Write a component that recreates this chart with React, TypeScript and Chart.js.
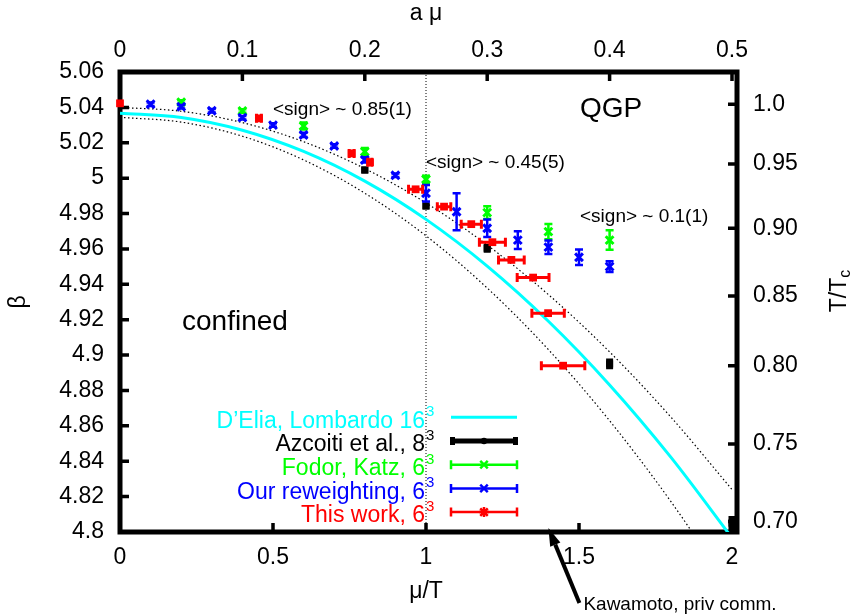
import React, { useEffect, useRef } from "react";
import { Chart, registerables } from "chart.js";

Chart.register(...registerables);

const FONT = "'Liberation Sans', Arial, Helvetica, sans-serif";
const TICK_SIZE = 23;

// ---- axes ----
const muRange = [0, 2];
const amuRange = [0, 0.5];
const betaRange = [4.8, 5.06];
const muTicks = [0, 0.5, 1, 1.5, 2];
const muTickLabels = ["0", "0.5", "1", "1.5", "2"];
const amuTicks = [0, 0.1, 0.2, 0.3, 0.4, 0.5];
const amuTickLabels = ["0", "0.1", "0.2", "0.3", "0.4", "0.5"];
const betaTicks = [4.8, 4.82, 4.84, 4.86, 4.88, 4.9, 4.92, 4.94, 4.96, 4.98, 5.0, 5.02, 5.04, 5.06];
const betaTickLabels = ["4.8", "4.82", "4.84", "4.86", "4.88", "4.9", "4.92", "4.94", "4.96", "4.98", "5", "5.02", "5.04", "5.06"];
const ttcTickBetas = [5.0418, 5.008, 4.9717, 4.9334, 4.8939, 4.8497, 4.8059];
const ttcTickLabels = ["1.0", "0.95", "0.90", "0.85", "0.80", "0.75", "0.70"];

// ---- D'Elia, Lombardo fit and its band ----
const curveMu = [0, 0.2, 0.4, 0.6, 0.8, 1.0, 1.2, 1.4, 1.6, 1.8, 2.0];
const deliaBeta = [5.0367, 5.0343, 5.0271, 5.0151, 4.9983, 4.9767, 4.9503, 4.9191, 4.8831, 4.8423, 4.7967];
const deliaUpper = [5.040, 5.0378, 5.0314, 5.0206, 5.0054, 4.986, 4.9622, 4.9342, 4.9018, 4.865, 4.824];
const deliaLower = [5.0344, 5.0317, 5.0237, 5.0103, 4.9915, 4.9674, 4.9379, 4.9031, 4.8629, 4.8173, 4.7664];
const signLineMu = 1;

// ---- Azcoiti et al. 8^3 ----
const azcoitiMu = [0.8, 1.0, 1.2, 1.6, 2.0];
const azcoitiBeta = [5.0046, 4.9843, 4.9604, 4.895, 4.805];
const azcoitiErr = [0.002, 0.002, 0.0025, 0.003, 0.004];

// ---- Fodor, Katz 6^3 ----
const fodorMu = [0.2, 0.4, 0.6, 0.8, 1.0, 1.2, 1.4, 1.6];
const fodorBeta = [5.043, 5.038, 5.0295, 5.015, 4.9994, 4.9805, 4.9698, 4.965];
const fodorErr = [0.001, 0.001, 0.002, 0.002, 0.002, 0.0036, 0.0043, 0.0055];

// ---- Our reweighting 6^3 ----
const reweightMu = [0.1, 0.2, 0.3, 0.4, 0.5, 0.6, 0.7, 0.8, 0.9, 1.0, 1.1, 1.2, 1.3, 1.4, 1.5, 1.6];
const reweightBeta = [5.0418, 5.0404, 5.0381, 5.0342, 5.030, 5.0244, 5.0182, 5.0103, 5.0016, 4.9915, 4.981, 4.9717, 4.965, 4.961, 4.9553, 4.950];
const reweightErr = [0.001, 0.001, 0.001, 0.001, 0.001, 0.0012, 0.001, 0.0015, 0.001, 0.0047, 0.0104, 0.005, 0.005, 0.0038, 0.0044, 0.003];

// ---- This work 6^3 ----
const thisMu = [0, 0.454, 0.757, 0.817, 0.966, 1.059, 1.148, 1.217, 1.279, 1.35, 1.399, 1.448];
const thisBeta = [5.0423, 5.0338, 5.014, 5.009, 4.9937, 4.9839, 4.974, 4.9638, 4.9538, 4.9438, 4.9237, 4.894];
const thisMuErr = [0, 0.008, 0.008, 0.006, 0.023, 0.022, 0.033, 0.0425, 0.042, 0.052, 0.053, 0.071];

// ---- legend / annotations ----
const legendNames = ["D\u2019Elia, Lombardo 16", "Azcoiti et al., 8", "Fodor, Katz, 6", "Our reweighting, 6", "This work, 6"];
const legendSup = ["3", "3", "3", "3", "3"];
const legendColors = ["#00ffff", "#000000", "#00ff00", "#0000ff", "#ff0000"];
const signTexts = ["<sign> ~ 0.85(1)", "<sign> ~ 0.45(5)", "<sign> ~ 0.1(1)"];
const kawamotoMu = 1.4;

const RIGHT_SHIFT = 5;

function drawCross(ctx: CanvasRenderingContext2D, x: number, y: number, r: number, star: boolean) {
  const d = r * 0.75;
  ctx.beginPath();
  ctx.moveTo(x - d, y - d); ctx.lineTo(x + d, y + d);
  ctx.moveTo(x - d, y + d); ctx.lineTo(x + d, y - d);
  if (star) { ctx.moveTo(x, y - r); ctx.lineTo(x, y + r); ctx.moveTo(x - r, y); ctx.lineTo(x + r, y); }
  ctx.stroke();
}

const decorPlugin = {
  id: "decor",
  beforeDatasetsDraw(chart: any) {
    const { ctx, chartArea: a } = chart;
    const sx = chart.scales.x, sx2 = chart.scales.x2, sy = chart.scales.y, sy2 = chart.scales.y2;
    const rightX = a.right + RIGHT_SHIFT;
    const L = 9;
    ctx.save();
    ctx.strokeStyle = "#000";
    ctx.lineWidth = 3.5;
    ctx.beginPath();
    betaTicks.forEach((v) => { const p = sy.getPixelForValue(v); ctx.moveTo(a.left, p); ctx.lineTo(a.left + L, p); });
    ttcTickBetas.forEach((v) => { const p = sy2.getPixelForValue(v); ctx.moveTo(rightX, p); ctx.lineTo(rightX - L, p); });
    muTicks.forEach((v) => { const p = sx.getPixelForValue(v); ctx.moveTo(p, a.bottom); ctx.lineTo(p, a.bottom - L); });
    amuTicks.forEach((v) => { const p = sx2.getPixelForValue(v); ctx.moveTo(p, a.top); ctx.lineTo(p, a.top + L); });
    ctx.stroke();
    ctx.lineWidth = 5;
    ctx.strokeRect(a.left, a.top, rightX - a.left, a.bottom - a.top);
    ctx.restore();
  },
  beforeDatasetDraw(chart: any, args: any) {
    const ds = chart.data.datasets[args.index];
    if (!ds.errAxis) return;
    const { ctx } = chart;
    const xs = chart.scales[args.meta.xAxisID];
    const ys = chart.scales[args.meta.yAxisID];
    ctx.save();
    ctx.strokeStyle = ds.borderColor;
    ctx.lineWidth = ds.errWidth;
    ctx.lineCap = "butt";
    const cap = ds.capSize;
    ctx.beginPath();
    ds.data.forEach((p: any) => {
      const px = xs.getPixelForValue(p.x);
      const py = ys.getPixelForValue(p.y);
      if (!p.err) return;
      if (ds.errAxis === "y") {
        const y1 = ys.getPixelForValue(p.y - p.err);
        const y2 = ys.getPixelForValue(p.y + p.err);
        ctx.moveTo(px, y1); ctx.lineTo(px, y2);
        if (cap) { ctx.moveTo(px - cap, y1); ctx.lineTo(px + cap, y1); ctx.moveTo(px - cap, y2); ctx.lineTo(px + cap, y2); }
      } else {
        const x1 = xs.getPixelForValue(p.x - p.err);
        const x2 = xs.getPixelForValue(p.x + p.err);
        ctx.moveTo(x1, py); ctx.lineTo(x2, py);
        if (cap) { ctx.moveTo(x1, py - cap); ctx.lineTo(x1, py + cap); ctx.moveTo(x2, py - cap); ctx.lineTo(x2, py + cap); }
      }
    });
    ctx.stroke();
    ctx.restore();
  },
  afterDraw(chart: any) {
    const { ctx, chartArea: a } = chart;
    const sx = chart.scales.x;
    ctx.save();
    ctx.fillStyle = "#000";
    ctx.textAlign = "left";
    ctx.textBaseline = "alphabetic";
    // sign annotations
    ctx.font = `19px ${FONT}`;
    ctx.fillText(signTexts[0], 273, 115);
    ctx.fillText(signTexts[1], sx.getPixelForValue(signLineMu), 168);
    ctx.fillText(signTexts[2], 580, 221.5);
    ctx.font = `28px ${FONT}`;
    ctx.fillText("QGP", 580, 116.5);
    ctx.fillText("confined", 182, 330);
    // Kawamoto arrow
    const tipX = sx.getPixelForValue(kawamotoMu);
    const tipY = a.bottom - 4;
    const tailX = tipX + 31, tailY = tipY + 75;
    const dx = tipX - tailX, dy = tipY - tailY;
    const len = Math.hypot(dx, dy);
    const ux = dx / len, uy = dy / len;
    const hl = 18, hw = 5.5;
    const bx = tipX - ux * hl, by = tipY - uy * hl;
    ctx.strokeStyle = "#000";
    ctx.lineWidth = 4;
    ctx.beginPath(); ctx.moveTo(tailX, tailY); ctx.lineTo(bx, by); ctx.stroke();
    ctx.beginPath();
    ctx.moveTo(tipX, tipY);
    ctx.lineTo(bx - uy * hw, by + ux * hw);
    ctx.lineTo(bx + uy * hw, by - ux * hw);
    ctx.closePath(); ctx.fill();
    ctx.font = `19px ${FONT}`;
    ctx.fillText("Kawamoto, priv comm.", tailX + 4, 610);
    // legend
    const textRight = 425;
    const base0 = 427.6, step = 23.7;
    const sx0 = 451, sx1 = 517, smid = (sx0 + sx1) / 2;
    legendNames.forEach((name, i) => {
      const by0 = base0 + i * step;
      const ly = by0 - 10.3;
      const col = legendColors[i];
      ctx.fillStyle = col;
      ctx.strokeStyle = col;
      ctx.textAlign = "right";
      ctx.font = `23px ${FONT}`;
      ctx.fillText(name, textRight, by0);
      ctx.textAlign = "left";
      ctx.font = `15px ${FONT}`;
      ctx.fillText(legendSup[i], textRight + 1, by0 - 11.5);
      if (i === 0) {
        ctx.lineWidth = 3;
        ctx.beginPath(); ctx.moveTo(sx0, ly); ctx.lineTo(sx1, ly); ctx.stroke();
      } else if (i === 1) {
        ctx.lineWidth = 5;
        ctx.beginPath(); ctx.moveTo(sx0, ly); ctx.lineTo(sx1, ly); ctx.stroke();
        ctx.fillRect(sx0 - 1, ly - 4, 5, 8);
        ctx.fillRect(sx1 - 4, ly - 4, 5, 8);
        ctx.beginPath(); ctx.arc(smid, ly, 3.2, 0, Math.PI * 2); ctx.fill();
      } else {
        ctx.lineWidth = 2.5;
        ctx.beginPath();
        ctx.moveTo(sx0, ly); ctx.lineTo(sx1, ly);
        ctx.moveTo(sx0, ly - 4.5); ctx.lineTo(sx0, ly + 4.5);
        ctx.moveTo(sx1, ly - 4.5); ctx.lineTo(sx1, ly + 4.5);
        ctx.stroke();
        drawCross(ctx, smid, ly, 5, i === 4);
      }
    });
    // right axis title T/Tc
    ctx.fillStyle = "#000";
    ctx.save();
    ctx.translate(840, 291);
    ctx.rotate(-Math.PI / 2);
    ctx.font = `${TICK_SIZE}px ${FONT}`;
    const w1 = ctx.measureText("T/T").width;
    ctx.font = `16px ${FONT}`;
    const w2 = ctx.measureText("c").width;
    const x0 = -(w1 + w2) / 2;
    ctx.textAlign = "left";
    ctx.textBaseline = "middle";
    ctx.font = `${TICK_SIZE}px ${FONT}`;
    ctx.fillText("T/T", x0, 0);
    ctx.font = `16px ${FONT}`;
    ctx.fillText("c", x0 + w1, 6);
    ctx.restore();
    ctx.restore();
  },
};

const pts = (xs: number[], ys: number[], es?: number[]) =>
  xs.map((x, i) => ({ x, y: ys[i], err: es ? es[i] : 0 }));

function tickFont() {
  return { family: FONT, size: TICK_SIZE };
}

export default function App() {
  const ref = useRef<HTMLCanvasElement>(null);
  useEffect(() => {
    const datasets: any[] = [
      {
        label: legendNames[4] + "\u00b3",
        data: pts(thisMu, thisBeta, thisMuErr),
        pointStyle: "rect", pointRadius: 5.5, pointBorderWidth: 0, borderWidth: 0,
        borderColor: "#ff0000", backgroundColor: "#ff0000",
        pointBorderColor: "#ff0000", pointBackgroundColor: "#ff0000",
        errAxis: "x", errWidth: 3, capSize: 4.5, clip: false, order: 0,
      },
      {
        label: legendNames[3] + "\u00b3",
        data: pts(reweightMu, reweightBeta, reweightErr),
        pointStyle: "crossRot", pointRadius: 5.5, pointBorderWidth: 3, borderWidth: 3,
        borderColor: "#0000ff", backgroundColor: "#0000ff",
        pointBorderColor: "#0000ff", pointBackgroundColor: "#0000ff",
        errAxis: "y", errWidth: 2.5, capSize: 4, clip: false, order: 1,
      },
      {
        label: legendNames[2] + "\u00b3",
        data: pts(fodorMu, fodorBeta, fodorErr),
        pointStyle: "crossRot", pointRadius: 5.5, pointBorderWidth: 3, borderWidth: 3,
        borderColor: "#00ff00", backgroundColor: "#00ff00",
        pointBorderColor: "#00ff00", pointBackgroundColor: "#00ff00",
        errAxis: "y", errWidth: 2.5, capSize: 4, clip: false, order: 2,
      },
      {
        label: legendNames[1] + "\u00b3",
        data: pts(azcoitiMu, azcoitiBeta, azcoitiErr),
        pointStyle: "rect", pointRadius: 5, pointBorderWidth: 0, borderWidth: 0,
        borderColor: "#000000", backgroundColor: "#000000",
        pointBorderColor: "#000000", pointBackgroundColor: "#000000",
        errAxis: "y", errWidth: 7, capSize: 0, clip: false, order: 3,
      },
      {
        label: legendNames[0] + "\u00b3",
        data: pts(curveMu, deliaBeta),
        showLine: true, pointRadius: 0, borderWidth: 3,
        borderColor: "#00ffff", backgroundColor: "#00ffff",
        cubicInterpolationMode: "monotone", order: 4,
      },
      {
        label: "upper",
        data: pts(curveMu, deliaUpper),
        showLine: true, pointRadius: 0, borderWidth: 1.2, borderDash: [1.5, 2.5],
        borderColor: "#000000", cubicInterpolationMode: "monotone", order: 5,
      },
      {
        label: "lower",
        data: pts(curveMu, deliaLower),
        showLine: true, pointRadius: 0, borderWidth: 1.2, borderDash: [1.5, 2.5],
        borderColor: "#000000", cubicInterpolationMode: "monotone", order: 6,
      },
      {
        label: "sign",
        data: pts([signLineMu, signLineMu], betaRange),
        showLine: true, pointRadius: 0, borderWidth: 1, borderDash: [1, 2],
        borderColor: "#000000", order: 7,
      },
    ];

    const common = {
      grid: { display: false, drawTicks: false },
      border: { display: false },
    };

    const chart = new Chart(ref.current as HTMLCanvasElement, {
      type: "scatter",
      data: { datasets },
      plugins: [decorPlugin as any],
      options: {
        responsive: false,
        animation: false,
        devicePixelRatio: 1,
        layout: { padding: 0 },
        plugins: { legend: { display: false }, tooltip: { enabled: false } },
        events: [],
        scales: {
          x: {
            type: "linear", position: "bottom", min: muRange[0], max: muRange[1],
            ...common,
            afterBuildTicks: (s: any) => { s.ticks = muTicks.map((v) => ({ value: v })); },
            afterFit: (s: any) => { s.height = 83; },
            ticks: { callback: (_v: any, i: number) => muTickLabels[i], padding: 12, font: tickFont(), color: "#000", maxRotation: 0, autoSkip: false },
            title: { display: true, text: "\u03bc/T", font: tickFont(), color: "#000", padding: { top: 0, bottom: 10 } },
          },
          x2: {
            type: "linear", position: "top", min: amuRange[0], max: amuRange[1],
            ...common,
            afterBuildTicks: (s: any) => { s.ticks = amuTicks.map((v) => ({ value: v })); },
            afterFit: (s: any) => { s.height = 72; },
            ticks: { callback: (_v: any, i: number) => amuTickLabels[i], padding: 8, font: tickFont(), color: "#000", maxRotation: 0, autoSkip: false },
            title: { display: true, text: "a \u03bc", font: tickFont(), color: "#000", padding: { top: 0, bottom: 0 } },
          },
          y: {
            type: "linear", position: "left", min: betaRange[0], max: betaRange[1],
            ...common,
            afterBuildTicks: (s: any) => { s.ticks = betaTicks.map((v) => ({ value: v })); },
            afterFit: (s: any) => { s.width = 120; },
            ticks: { callback: (_v: any, i: number) => betaTickLabels[i], padding: 16, font: tickFont(), color: "#000", autoSkip: false },
            title: { display: true, text: "\u03b2", font: tickFont(), color: "#000", padding: { top: 5, bottom: 0 } },
          },
          y2: {
            type: "linear", position: "right", min: betaRange[0], max: betaRange[1],
            ...common,
            afterBuildTicks: (s: any) => { s.ticks = ttcTickBetas.map((v) => ({ value: v })); },
            afterFit: (s: any) => { s.width = 119; },
            ticks: { callback: (_v: any, i: number) => ttcTickLabels[i], padding: 21, font: tickFont(), color: "#000", autoSkip: false },
          },
        },
      } as any,
    });
    return () => chart.destroy();
  }, []);

  return (
    <div style={{ position: "fixed", left: 0, top: 0, width: 851, height: 615, background: "#fff" }}>
      <canvas ref={ref} width={851} height={615} style={{ display: "block", width: 851, height: 615 }} />
    </div>
  );
}
